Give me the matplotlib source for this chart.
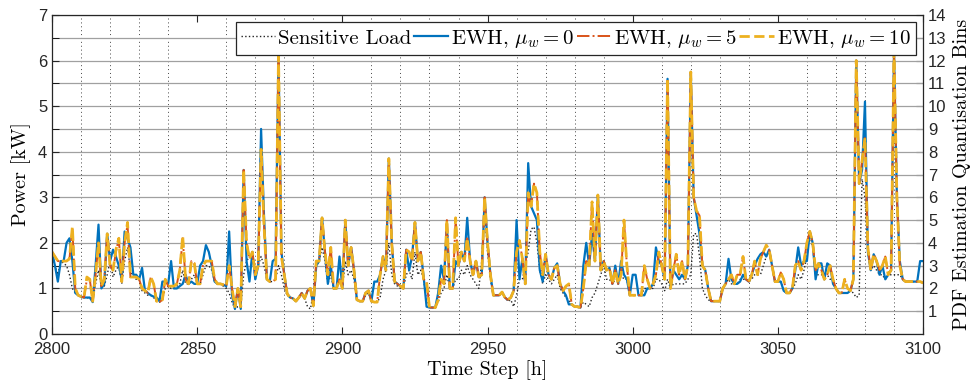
import numpy as np
import matplotlib
matplotlib.use('Agg')
import matplotlib.pyplot as plt
from matplotlib.ticker import MultipleLocator

## data (hourly, 2800..3100) ##
steps = np.arange(2800, 3101)

sensitive = [
    1.75, 1.5, 1.3, 1.6, 1.55, 1.5, 1.3, 1.0, 0.9, 0.85,
    0.82, 0.8, 0.8, 0.78, 0.75, 1.1, 1.4, 1.05, 1.05, 1.3,
    1.6, 1.25, 1.4, 1.5, 1.1, 1.6, 1.9, 1.4, 1.25, 1.2,
    1.2, 0.95, 0.9, 0.85, 0.85, 0.8, 0.72, 0.7, 0.75, 1.0,
    1.05, 1.0, 1.0, 1.05, 1.1, 1.4, 1.1, 1.1, 1.2, 1.3,
    1.1, 1.1, 1.3, 1.5, 1.5, 1.4, 1.15, 1.1, 1.1, 1.05,
    1.0, 0.9, 0.7, 0.55, 0.6, 0.6, 1.3, 1.6, 1.7, 1.75,
    1.2, 1.5, 1.7, 1.5, 1.2, 1.15, 1.15, 1.2, 1.5, 1.3,
    1.0, 0.85, 0.8, 0.78, 0.72, 0.8, 0.85, 0.78, 0.6, 0.55,
    0.9, 1.5, 1.6, 1.9, 1.6, 1.1, 1.3, 1.0, 1.0, 1.2,
    1.0, 1.6, 1.3, 1.4, 1.2, 0.75, 0.72, 0.72, 0.85, 0.9,
    0.72, 0.7, 0.7, 0.8, 1.2, 1.4, 2.0, 1.3, 1.1, 1.05,
    1.0, 1.0, 1.3, 1.4, 1.2, 1.8, 1.3, 1.4, 1.2, 0.7,
    0.6, 0.58, 0.58, 0.7, 0.9, 1.0, 1.3, 1.0, 1.0, 1.2,
    1.2, 1.4, 1.3, 1.5, 1.3, 1.2, 1.1, 1.0, 1.6, 2.7,
    1.8, 1.2, 0.85, 0.85, 0.85, 0.9, 0.8, 0.72, 0.75, 0.6,
    0.85, 1.2, 1.2, 1.5, 1.8, 2.3, 2.35, 2.0, 1.4, 1.1,
    1.3, 1.2, 1.1, 1.2, 1.3, 1.0, 0.9, 0.8, 0.75, 0.65,
    0.6, 0.58, 0.58, 0.7, 0.65, 0.6, 0.8, 0.9, 1.1, 1.3,
    1.5, 1.2, 1.2, 1.1, 1.2, 1.2, 1.3, 1.2, 1.2, 0.85,
    0.85, 0.85, 0.85, 0.85, 1.0, 1.0, 1.0, 1.0, 1.2, 1.2,
    1.1, 0.95, 1.2, 1.0, 1.1, 1.1, 1.1, 1.1, 1.1, 1.2,
    1.3, 2.2, 2.2, 1.7, 1.0, 0.85, 0.75, 0.72, 0.72, 0.72,
    0.72, 1.0, 1.1, 1.2, 1.1, 1.1, 1.1, 1.2, 1.2, 1.2,
    1.15, 1.2, 1.3, 1.3, 1.3, 1.5, 1.7, 1.8, 1.5, 1.15,
    1.15, 1.15, 0.95, 0.9, 0.9, 1.0, 1.1, 1.3, 1.2, 1.4,
    1.7, 2.2, 1.9, 1.3, 1.3, 1.3, 1.3, 1.3, 1.2, 1.2,
    1.0, 0.9, 0.9, 0.9, 0.9, 0.95, 0.9, 0.8, 0.85, 3.4,
    3.0, 1.8, 1.4, 1.5, 1.4, 1.3, 1.3, 1.2, 1.3, 1.3,
    1.3, 1.3, 1.3, 1.2, 1.15, 1.15, 1.15, 1.15, 1.15, 1.15,
    1.15]

ewh_mu0 = [
    1.8, 1.5, 1.15, 1.6, 1.6, 2.0, 2.1, 1.6, 0.9, 0.85,
    0.82, 0.8, 0.8, 0.8, 0.7, 1.5, 2.4, 1.0, 1.1, 2.2,
    1.6, 1.85, 1.7, 1.5, 1.2, 2.25, 2.1, 1.9, 1.3, 1.3,
    1.2, 1.45, 0.95, 0.9, 0.85, 0.82, 0.8, 0.72, 1.15, 1.15,
    1.1, 1.6, 1.0, 1.0, 1.05, 1.1, 1.3, 1.1, 1.15, 1.1,
    1.1, 1.5, 1.6, 1.95, 1.8, 1.5, 1.15, 1.1, 1.1, 1.08,
    1.05, 2.25, 0.85, 0.55, 1.0, 0.55, 3.6, 1.6, 1.15, 1.8,
    1.2, 1.5, 4.5, 2.6, 1.2, 1.15, 1.6, 1.65, 6.1, 1.8,
    1.3, 0.88, 0.8, 0.78, 0.72, 0.8, 0.9, 0.78, 0.95, 1.0,
    0.62, 1.5, 1.6, 2.55, 1.8, 1.1, 1.5, 1.0, 1.0, 1.7,
    1.0, 2.5, 1.5, 1.9, 1.4, 0.75, 0.72, 0.72, 0.9, 0.95,
    0.72, 1.15, 1.15, 1.3, 1.7, 1.4, 3.85, 2.0, 1.15, 1.1,
    1.05, 1.0, 1.85, 1.4, 1.7, 2.45, 1.6, 1.8, 1.25, 0.6,
    0.58, 0.58, 0.58, 0.9, 1.5, 1.2, 2.4, 1.0, 1.0, 1.6,
    1.5, 1.8, 1.6, 2.55, 1.6, 1.3, 1.6, 1.25, 1.3, 3.0,
    2.0, 1.3, 0.85, 0.85, 0.85, 0.92, 0.8, 0.75, 0.8, 0.95,
    2.5, 1.2, 1.65, 1.1, 3.75, 2.8, 2.65, 2.5, 1.4, 1.15,
    1.75, 1.3, 1.2, 1.45, 1.55, 1.1, 0.95, 0.85, 0.65, 0.65,
    0.6, 0.6, 0.58, 1.5, 2.0, 1.5, 2.2, 1.6, 3.05, 1.4,
    1.6, 1.4, 1.45, 1.1, 1.5, 1.1, 1.6, 1.3, 1.2, 0.85,
    1.3, 1.3, 0.85, 0.85, 0.85, 1.0, 1.0, 1.1, 1.9, 1.6,
    1.5, 1.2, 5.6, 1.0, 1.4, 1.3, 1.2, 1.3, 1.2, 1.5,
    5.75, 3.0, 2.6, 2.2, 1.5, 1.4, 1.0, 0.72, 0.72, 0.72,
    0.72, 1.0, 1.1, 1.65, 1.2, 1.1, 1.1, 1.15, 1.3, 1.2,
    1.15, 1.3, 1.5, 1.65, 1.75, 1.8, 1.7, 1.85, 1.5, 1.15,
    1.15, 1.15, 0.95, 0.9, 0.9, 1.0, 1.4, 1.9, 1.5, 1.6,
    1.6, 2.25, 2.0, 1.2, 1.55, 1.55, 1.2, 1.55, 1.5, 1.1,
    1.0, 0.9, 0.9, 0.9, 0.9, 0.95, 1.2, 6.0, 3.3, 3.6,
    5.1, 1.8, 1.4, 1.75, 1.6, 1.3, 1.5, 1.2, 1.3, 1.4,
    6.2, 3.0, 1.6, 1.2, 1.15, 1.15, 1.15, 1.15, 1.15, 1.6,
    1.6]

ewh_mu5 = [
    1.8, 1.7, 1.6, 1.6, 1.6, 1.6, 1.65, 2.3, 1.0, 0.85,
    0.82, 0.8, 1.2, 1.2, 0.72, 1.3, 2.0, 1.05, 1.2, 2.2,
    1.5, 1.4, 1.8, 2.1, 1.15, 2.0, 2.4, 1.25, 1.25, 1.25,
    1.2, 1.0, 0.95, 0.9, 1.25, 1.1, 0.72, 0.7, 0.75, 1.2,
    1.05, 1.05, 1.05, 1.1, 1.4, 2.1, 1.2, 1.1, 1.6, 1.55,
    1.1, 1.1, 1.5, 1.6, 1.6, 1.6, 1.2, 1.1, 1.1, 1.08,
    1.05, 1.5, 1.0, 0.6, 1.0, 0.6, 3.6, 2.0, 1.65, 1.8,
    1.3, 1.5, 4.05, 2.4, 1.2, 1.15, 1.15, 1.2, 6.1, 1.7,
    1.3, 0.88, 0.8, 0.78, 0.72, 0.8, 0.9, 0.78, 0.95, 1.0,
    0.62, 1.6, 1.6, 2.55, 1.8, 1.3, 1.9, 1.0, 1.0, 1.2,
    1.0, 2.5, 1.5, 1.9, 1.4, 0.75, 0.72, 0.72, 0.9, 0.95,
    0.72, 0.7, 0.7, 1.3, 1.7, 1.4, 3.85, 2.0, 1.15, 1.1,
    1.05, 1.0, 1.85, 1.8, 1.6, 2.45, 1.6, 1.8, 1.2, 1.15,
    0.58, 0.58, 0.58, 0.75, 1.2, 1.1, 2.5, 1.0, 1.0, 2.5,
    1.5, 1.8, 1.6, 2.1, 1.6, 1.3, 1.6, 1.25, 1.3, 3.0,
    2.0, 1.3, 0.85, 0.85, 0.85, 0.92, 0.8, 0.75, 0.8, 0.95,
    1.8, 2.05, 1.65, 1.1, 3.1, 2.8, 3.3, 3.1, 1.8, 1.3,
    1.75, 1.3, 1.2, 1.45, 1.5, 1.1, 0.95, 1.05, 1.1, 0.65,
    0.6, 0.6, 0.58, 1.0, 1.6, 1.5, 2.9, 1.6, 3.05, 1.4,
    1.6, 1.4, 1.45, 1.1, 1.4, 1.1, 1.3, 2.5, 1.5, 0.85,
    0.85, 0.85, 0.85, 0.85, 1.5, 1.2, 1.0, 1.1, 1.3, 1.8,
    1.5, 1.2, 5.6, 1.0, 1.4, 1.75, 1.3, 1.6, 1.2, 1.5,
    5.75, 3.0, 2.7, 2.6, 1.5, 1.4, 1.0, 0.72, 0.72, 0.72,
    0.72, 1.0, 1.1, 1.2, 1.3, 1.1, 1.3, 1.3, 1.7, 1.2,
    1.15, 1.3, 1.6, 1.3, 1.65, 1.8, 1.95, 1.85, 1.5, 1.15,
    1.15, 1.35, 1.2, 0.9, 0.9, 1.0, 1.5, 1.6, 1.4, 1.6,
    2.0, 2.25, 2.0, 1.4, 1.55, 1.4, 1.2, 1.3, 1.5, 1.2,
    1.0, 0.9, 0.9, 1.2, 1.0, 0.95, 1.2, 6.0, 3.3, 3.8,
    4.3, 1.9, 1.4, 1.75, 1.6, 1.4, 1.5, 1.7, 1.3, 1.4,
    6.2, 3.0, 1.5, 1.2, 1.15, 1.15, 1.15, 1.15, 1.15, 1.15,
    1.12]

ewh_mu10 = [
    1.8, 1.7, 1.6, 1.6, 1.6, 1.6, 1.65, 2.35, 1.0, 0.85,
    0.82, 0.8, 1.25, 1.2, 0.72, 1.3, 2.0, 1.05, 1.2, 2.2,
    1.5, 1.4, 1.85, 2.1, 1.15, 2.0, 2.45, 1.25, 1.25, 1.25,
    1.2, 1.0, 0.95, 0.9, 1.25, 1.1, 0.72, 0.7, 0.75, 1.2,
    1.05, 1.05, 1.05, 1.1, 1.4, 2.15, 1.2, 1.1, 1.6, 1.55,
    1.1, 1.1, 1.5, 1.6, 1.6, 1.6, 1.2, 1.1, 1.1, 1.08,
    1.05, 1.5, 1.0, 0.6, 1.0, 0.6, 3.6, 2.0, 1.65, 1.8,
    1.3, 1.5, 4.05, 2.4, 1.2, 1.15, 1.15, 1.2, 6.1, 1.7,
    1.3, 0.88, 0.8, 0.78, 0.72, 0.8, 0.9, 0.78, 0.95, 1.0,
    0.62, 1.6, 1.6, 2.55, 1.8, 1.3, 1.9, 1.0, 1.0, 1.2,
    1.0, 2.5, 1.5, 1.9, 1.4, 0.75, 0.72, 0.72, 0.9, 0.95,
    0.72, 0.7, 0.7, 1.3, 1.7, 1.4, 3.85, 2.0, 1.15, 1.1,
    1.05, 1.0, 1.85, 1.8, 1.6, 2.45, 1.6, 1.8, 1.2, 1.15,
    0.58, 0.58, 0.58, 0.75, 1.2, 1.1, 2.5, 1.0, 1.0, 2.55,
    1.5, 1.8, 1.6, 2.1, 1.6, 1.3, 1.6, 1.25, 1.3, 3.0,
    2.0, 1.3, 0.85, 0.85, 0.85, 0.92, 0.8, 0.75, 0.8, 0.95,
    1.8, 2.05, 1.65, 1.1, 3.1, 2.8, 3.3, 3.1, 1.8, 1.3,
    1.75, 1.3, 1.2, 1.45, 1.5, 1.1, 0.95, 1.05, 1.1, 0.65,
    0.6, 0.6, 0.58, 1.0, 1.6, 1.5, 2.9, 1.6, 3.05, 1.4,
    1.6, 1.4, 1.45, 1.1, 1.4, 1.1, 1.3, 2.5, 1.5, 0.85,
    0.85, 0.85, 0.85, 0.85, 1.5, 1.2, 1.0, 1.1, 1.3, 1.8,
    1.5, 1.2, 5.6, 1.0, 1.4, 1.75, 1.3, 1.6, 1.2, 1.5,
    5.75, 3.0, 2.7, 2.6, 1.5, 1.4, 1.0, 0.72, 0.72, 0.72,
    0.72, 1.0, 1.1, 1.2, 1.3, 1.1, 1.3, 1.3, 1.7, 1.2,
    1.15, 1.3, 1.6, 1.3, 1.65, 1.8, 1.95, 1.85, 1.5, 1.15,
    1.15, 1.35, 1.2, 0.9, 0.9, 1.0, 1.5, 1.6, 1.4, 1.6,
    2.0, 2.25, 2.0, 1.4, 1.55, 1.4, 1.2, 1.3, 1.5, 1.2,
    1.0, 0.9, 0.9, 1.2, 1.0, 0.95, 1.2, 6.0, 3.3, 3.8,
    4.3, 1.9, 1.4, 1.75, 1.6, 1.4, 1.5, 1.7, 1.3, 1.4,
    6.2, 3.0, 1.5, 1.2, 1.15, 1.15, 1.15, 1.15, 1.15, 1.15,
    1.12]

bin_ticks = list(range(1, 15))

plt.rcParams['font.family'] = 'Liberation Sans'
plt.rcParams['mathtext.fontset'] = 'cm'
serif = 'cmr10'

fig = plt.figure(figsize=(9.71, 3.89), dpi=100)
ax = fig.add_axes([0.0536, 0.1414, 0.897, 0.82])

# grid: solid gray every 0.5 kW, dotted every 10 h
ax.yaxis.set_major_locator(MultipleLocator(1))
ax.yaxis.set_minor_locator(MultipleLocator(0.5))
ax.xaxis.set_major_locator(MultipleLocator(50))
ax.xaxis.set_minor_locator(MultipleLocator(10))
ax.grid(axis='y', which='both', color='#a0a0a0', linewidth=0.9, linestyle='-')
ax.grid(axis='x', which='minor', color='#444444', linewidth=0.7, linestyle=(0, (1, 3)))
ax.set_axisbelow(True)

ax.plot(steps, sensitive, color='#222222', linestyle=':', linewidth=1.0, label='Sensitive Load')
ax.plot(steps, ewh_mu0, color='#0072BD', linestyle='-', linewidth=1.6, label=r'EWH, $\mu_w = 0$')
ax.plot(steps, ewh_mu5, color='#D95319', linestyle='-.', linewidth=1.4, label=r'EWH, $\mu_w = 5$')
ax.plot(steps, ewh_mu10, color='#EDB120', linestyle='--', linewidth=2.0, label=r'EWH, $\mu_w = 10$')

ax.set_xlim(2800, 3100)
ax.set_ylim(0, 7)
ax.tick_params(axis='both', which='major', direction='in', length=5, labelsize=12,
               top=True, colors='#262626')
ax.tick_params(axis='x', which='major', pad=6)
ax.tick_params(axis='y', which='minor', direction='in', length=5, right=False)
ax.tick_params(axis='x', which='minor', length=0)
for s in ax.spines.values():
    s.set_color('#262626')
    s.set_linewidth(0.9)

ax.set_xlabel('Time Step [h]', fontfamily=serif, fontsize=14.5, labelpad=2)
ax.set_ylabel('Power [kW]', fontfamily=serif, fontsize=14.5, labelpad=5)

ax2 = ax.twinx()
ax2.set_ylim(0, 14)
ax2.set_yticks(bin_ticks)
ax2.tick_params(axis='y', direction='in', length=5, labelsize=12, colors='#262626')
ax2.set_ylabel('PDF Estimation Quantisation Bins', fontfamily=serif, fontsize=14.5, labelpad=5)
for s in ax2.spines.values():
    s.set_visible(False)

leg = ax.legend(loc='upper right', ncol=4, prop={'family': serif, 'size': 15},
                frameon=True, fancybox=False, edgecolor='#262626', framealpha=1,
                handlelength=1.65, handletextpad=0.15, columnspacing=0.1,
                borderpad=0.25, borderaxespad=0.35)
leg.get_frame().set_linewidth(0.9)
ax.set_zorder(ax2.get_zorder() + 1)
ax.patch.set_visible(False)

plt.savefig('out.png', dpi=100)
